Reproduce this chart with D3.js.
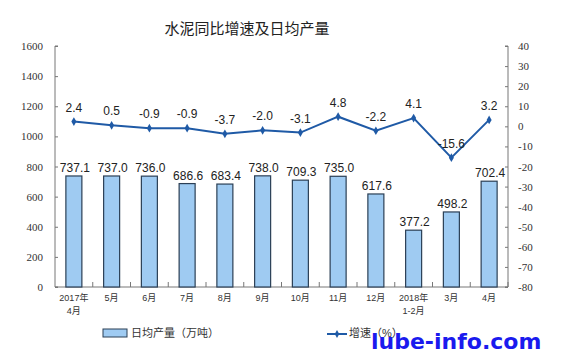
<!DOCTYPE html>
<html>
<head>
<meta charset="utf-8">
<script src="https://cdn.jsdelivr.net/npm/d3@7"></script>
<style>
  body { margin: 0; background: #fff; }
  svg { display: block; font-family: Arial, "Liberation Sans", "Noto Sans CJK SC", sans-serif; }
  .tick-label { font-family: "Liberation Serif", "Noto Sans CJK SC", serif; font-size: 11px; fill: #333; }
</style>
</head>
<body>
<script>
// data
let months = ['2017年\n4月', '5月', '6月', '7月', '8月', '9月', '10月', '11月', '12月', '2018年\n1-2月', '3月', '4月']
let output = [737.1, 737.0, 736.0, 686.6, 683.4, 738.0, 709.3, 735.0, 617.6, 377.2, 498.2, 702.4]
let growth = [2.4, 0.5, -0.9, -0.9, -3.7, -2.0, -3.1, 4.8, -2.2, 4.1, -15.6, 3.2]
let leftTicks = [0, 200, 400, 600, 800, 1000, 1200, 1400, 1600]
let rightTicks = [40, 30, 20, 10, 0, -10, -20, -30, -40, -50, -60, -70, -80]

let svgWidth = 567
let svgHeight = 353
let margin = {top: 46, right: 59, left: 55, bottom: 66}
let innerWidth = svgWidth - margin.left - margin.right
let innerHeight = svgHeight - margin.top - margin.bottom

let svg = d3.select('body').append('svg')
            .attr('width', svgWidth)
            .attr('height', svgHeight)

svg.append('text')
   .attr('x', 247).attr('y', 34)
   .attr('text-anchor', 'middle')
   .style('font-size', '15px')
   .style('fill', '#222')
   .text('水泥同比增速及日均产量')

let inner = svg.append('g')
               .attr('transform', 'translate(' + margin.left + ',' + margin.top + ')')

let xScale = d3.scaleBand().domain(months).range([0, innerWidth]).paddingInner(0).paddingOuter(0)
let yLeft = d3.scaleLinear().domain([0, 1600]).range([innerHeight, 0])
let yRight = d3.scaleLinear().domain([-80, 40]).range([innerHeight, 0])

// left axis, ticks point inward
let leftAxis = d3.axisRight(yLeft).tickValues(leftTicks).tickSize(3).tickFormat('')
let la = inner.append('g').call(leftAxis)
la.select('.domain').attr('stroke', '#777').attr('d', 'M3,0H0V' + innerHeight + 'H3')
la.selectAll('.tick line').attr('stroke', '#777')
inner.selectAll('.ltick').data(leftTicks).join('text')
     .classed('tick-label', true)
     .attr('x', -12).attr('y', d => yLeft(d) + 4)
     .attr('text-anchor', 'end')
     .text(d => d)

// right axis
let rightAxis = d3.axisLeft(yRight).tickValues(rightTicks).tickSize(3).tickFormat('')
let ra = inner.append('g').attr('transform', 'translate(' + innerWidth + ',0)').call(rightAxis)
ra.select('.domain').attr('stroke', '#777').attr('d', 'M-3,0H0V' + innerHeight + 'H-3')
ra.selectAll('.tick line').attr('stroke', '#777')
inner.selectAll('.rtick').data(rightTicks).join('text')
     .classed('tick-label', true)
     .attr('x', innerWidth + 10).attr('y', d => yRight(d) + 4)
     .text(d => d)

// x axis with band boundary ticks
let xa = inner.append('g').attr('transform', 'translate(0,' + innerHeight + ')')
xa.append('line').attr('x1', 0).attr('x2', innerWidth).attr('stroke', '#777')
xa.selectAll('.btick').data(months).join('line')
  .attr('x1', d => xScale(d) + xScale.bandwidth()).attr('x2', d => xScale(d) + xScale.bandwidth())
  .attr('y1', 0).attr('y2', -5).attr('stroke', '#777')
xa.selectAll('.xlab').data(months).join('text')
  .attr('x', d => xScale(d) + xScale.bandwidth() / 2)
  .attr('y', 14)
  .attr('text-anchor', 'middle')
  .style('font-size', '9px').style('fill', '#333')
  .each(function (d) {
      let lines = d.split('\n')
      d3.select(this).selectAll('tspan').data(lines).join('tspan')
        .attr('x', xScale(d) + xScale.bandwidth() / 2)
        .attr('dy', (l, i) => i == 0 ? 0 : 13)
        .text(l => l)
  })

// bars
let barW = 16
let rows = months.map((m, i) => ({m: m, v: output[i], g: growth[i]}))
inner.selectAll('.bar').data(rows).join('rect')
     .classed('bar', true)
     .attr('x', d => xScale(d.m) + xScale.bandwidth() / 2 - barW / 2)
     .attr('y', d => yLeft(d.v))
     .attr('width', barW)
     .attr('height', d => innerHeight - yLeft(d.v))
     .style('fill', '#9fcbf2')
     .style('stroke', '#2b3f55')
     .style('stroke-width', 1.2)

inner.selectAll('.bar-label').data(rows).join('text')
     .attr('x', d => xScale(d.m) + xScale.bandwidth() / 2 + 1)
     .attr('y', d => yLeft(d.v) - 4)
     .attr('text-anchor', 'middle')
     .style('font-size', '12px').style('fill', '#222')
     .text(d => d.v.toFixed(1))

// growth line
let line = d3.line()
             .x(d => xScale(d.m) + xScale.bandwidth() / 2)
             .y(d => yRight(d.g))
inner.append('path').datum(rows)
     .attr('d', line)
     .style('fill', 'none')
     .style('stroke', '#1f5aa6')
     .style('stroke-width', 2)

inner.selectAll('.pt').data(rows).join('path')
     .attr('d', d3.symbol(d3.symbolDiamond, 22))
     .attr('transform', d => 'translate(' + (xScale(d.m) + xScale.bandwidth() / 2) + ',' + yRight(d.g) + ')')
     .style('fill', '#1f5aa6')

inner.selectAll('.pt-label').data(rows).join('text')
     .attr('x', d => xScale(d.m) + xScale.bandwidth() / 2)
     .attr('y', d => yRight(d.g) - 10)
     .attr('text-anchor', 'middle')
     .style('font-size', '12px').style('fill', '#222')
     .text(d => d.g.toFixed(1))

// legend
let legend = svg.append('g')
legend.append('rect').attr('x', 103).attr('y', 329).attr('width', 24).attr('height', 8)
      .style('fill', '#9fcbf2').style('stroke', '#2b3f55')
legend.append('text').attr('x', 131).attr('y', 337)
      .style('font-size', '11px').style('fill', '#333').text('日均产量（万吨）')
legend.append('line').attr('x1', 327).attr('x2', 347).attr('y1', 334).attr('y2', 334)
      .style('stroke', '#1f5aa6').style('stroke-width', 2)
legend.append('path').attr('d', d3.symbol(d3.symbolDiamond, 18))
      .attr('transform', 'translate(337,334)').style('fill', '#1f5aa6')
legend.append('text').attr('x', 349).attr('y', 337)
      .style('font-size', '11px').style('fill', '#333').text('增速（%）')

// watermark
svg.append('text').attr('x', 371).attr('y', 349)
   .style('font-family', '"DejaVu Sans", sans-serif')
   .style('font-weight', 'bold').style('font-size', '22px')
   .style('fill', '#1a1aee')
   .text('lube-info.com')
</script>
</body>
</html>
